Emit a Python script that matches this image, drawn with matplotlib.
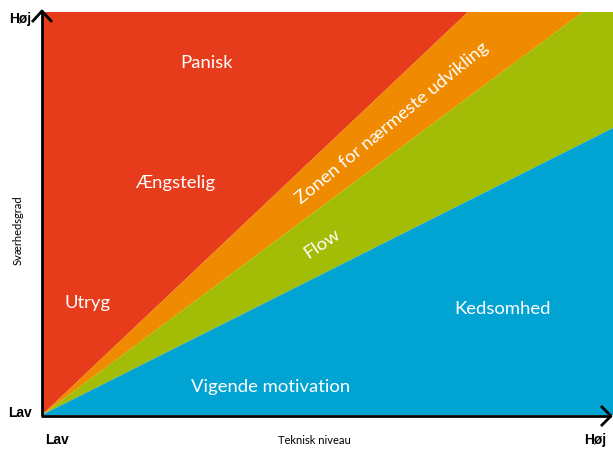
import matplotlib.pyplot as plt

# zone boundaries (fractions of the axes)
red_top_x = 0.746      # red / orange boundary hits the top at this x
orange_top_x = 0.947   # orange / green boundary hits the top at this x
blue_right_y = 0.712   # green / blue boundary hits the right edge at this y

zone_colors = ['#E63C1C', '#F08A00', '#A3BC06', '#00A3D2']

labels = ['Panisk', 'Ængstelig', 'Utryg', 'Zonen for nærmeste udvikling',
          'Flow', 'Kedsomhed', 'Vigende motivation']
label_x = [0.289, 0.233, 0.079, 0.614, 0.490, 0.807, 0.401]
label_y = [0.873, 0.576, 0.278, 0.724, 0.426, 0.263, 0.069]
label_rot = [0, 0, 0, 39.5, 34, 0, 0]

W, H = 613, 449
x0, y0 = 42, 415      # origin in pixels (from top)
x1, y1 = 613, 12

fig = plt.figure(figsize=(W / 100, H / 100), dpi=100)
ax = fig.add_axes([x0 / W, 1 - y0 / H, (x1 - x0) / W, (y0 - y1) / H])
ax.set_xlim(0, 1)
ax.set_ylim(0, 1)
ax.axis('off')

# zones
ax.fill([0, 0, red_top_x], [0, 1, 1], color=zone_colors[0], lw=0)
ax.fill([0, red_top_x, orange_top_x], [0, 1, 1], color=zone_colors[1], lw=0)
ax.fill([0, orange_top_x, 1, 1], [0, 1, 1, blue_right_y], color=zone_colors[2], lw=0)
ax.fill([0, 1, 1], [0, blue_right_y, 0], color=zone_colors[3], lw=0)

for t, x, y, r in zip(labels, label_x, label_y, label_rot):
    ax.text(x, y, t, color='white', fontsize=13.3, family='Lato',
            ha='center', va='center', rotation=r, rotation_mode='anchor')

# axes arrows (figure pixel coordinates)
def px(x, y):
    return (x / W, 1 - y / H)

ax_line = dict(color='black', lw=2, solid_capstyle='butt')
fig.add_artist(plt.Line2D(*zip(px(x0, 416), px(x0, 11)), **ax_line))
fig.add_artist(plt.Line2D(*zip(px(x0 - 1, 416), px(611, 416)), **ax_line))
fig.add_artist(plt.Line2D(*zip(px(32, 22), px(x0, 11), px(52, 22)), **ax_line))
fig.add_artist(plt.Line2D(*zip(px(601, 406), px(611, 416), px(601, 426)), **ax_line))

bold = dict(family='Liberation Sans', fontweight='bold', fontsize=10, color='black')
fig.text(*px(20, 19), 'Høj', ha='center', va='center', **bold)
fig.text(*px(20, 413), 'Lav', ha='center', va='center', **bold)
fig.text(*px(57, 440), 'Lav', ha='center', va='center', **bold)
fig.text(*px(595, 440), 'Høj', ha='center', va='center', **bold)
fig.text(*px(314, 440), 'Teknisk niveau', ha='center', va='center',
         family='Lato', fontsize=8, color='black')
fig.text(*px(18, 230), 'Sværhedsgrad', ha='center', va='center', rotation=90,
         family='Lato', fontsize=8, color='black')

fig.savefig('out.png', dpi=100)
